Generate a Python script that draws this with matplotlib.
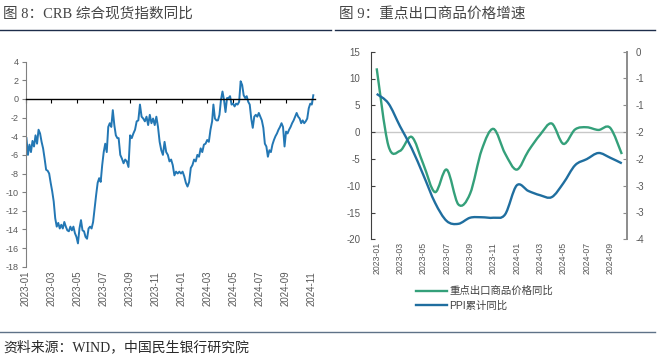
import matplotlib
matplotlib.use("Agg")
import matplotlib.pyplot as plt
import matplotlib.dates as mdates
import numpy as np
import pandas as pd
from matplotlib.lines import Line2D
from matplotlib.patches import PathPatch
from matplotlib.path import Path
from matplotlib.ticker import FormatStrFormatter

# ---- data: CRB spot index yoy (%) in three stretches
crb_seg1 = [-4.2, -6.0, -4.9, -5.7, -4.5, -5.1, -3.9, -4.8, -3.3, -3.7,
            -4.6, -5.3, -6.4, -7.6, -7.7, -8.0, -9.0, -9.9, -11.0, -12.8,
            -13.7, -13.3, -13.9, -13.5, -13.9, -13.2, -13.7, -14.1, -14.2, -13.7,
            -14.1, -13.7, -14.4, -14.8, -15.5, -13.9, -13.0, -14.1, -14.2, -14.8,
            -15.0, -13.9, -13.7, -13.9, -13.2, -11.7, -10.3, -9.0, -8.5, -8.9,
            -7.1, -5.7, -4.8, -5.7, -3.0, -2.6, -3.0, -1.2, -2.8, -3.9, -4.2]
crb_seg2 = [-4.2, -6.0, -6.4, -6.9, -6.5, -6.7, -7.3, -3.9, -4.2, -3.7,
            -3.3, -2.4, -2.3, -0.6, -1.9, -2.1, -2.4, -1.9, -2.8, -1.7,
            -2.6, -2.1, -2.8, -1.9, -3.0, -4.6, -5.5, -6.0, -4.6, -5.7,
            -6.0, -6.7, -6.5, -7.1, -8.2, -7.8, -8.0, -7.8, -8.0, -7.8,
            -8.3, -9.0, -9.4, -8.9, -7.4, -7.1, -6.5, -6.7, -6.0, -6.2,
            -5.3, -5.7, -4.9, -4.8, -4.4, -4.6, -3.3, -2.4]
crb_seg3 = [-0.6, -2.1, -2.3, -2.3, -1.7, -0.1, 0.8, -0.1, -1.4, 0.1,
            0.1, 0.3, -0.6, -0.5, -0.8, -0.5, -0.6, -0.3, 1.9, 1.5,
            0.4, 0.1, 0.3, -0.3, -0.6, -2.1, -3.1, -1.9, -1.7, -1.9,
            -1.5, -1.9, -2.3, -3.1, -4.8, -5.1, -6.2, -5.5, -5.7, -4.9,
            -4.4, -4.0, -3.7, -3.3, -3.0, -2.6, -3.0, -5.1, -3.5, -3.7,
            -3.3, -3.0, -2.6, -2.3, -1.9, -1.5, -1.9, -2.1, -2.6, -2.3,
            -2.6, -2.4, -2.1, -1.0, -0.5, -0.6, 0.4]
crb_spans = [("2023-01-02", "2023-08-03"), ("2023-08-06", "2024-03-12"),
             ("2024-03-15", "2024-11-04")]

# ---- data: key export prices yoy (left axis) and PPI cumulative yoy (right axis)
months = ["2023-01", "2023-02", "2023-03", "2023-04", "2023-05", "2023-06",
          "2023-07", "2023-08", "2023-09", "2023-10", "2023-11", "2023-12",
          "2024-01", "2024-02", "2024-03", "2024-04", "2024-05", "2024-06",
          "2024-07", "2024-08", "2024-09", "2024-10"]
export_yoy = [11.9, -2.5, -3.5, -0.9, -6.0, -11.2, -7.0, -13.5, -11.5, -3.3, 0.6,
              -4.0, -7.0, -3.5, -0.5, 1.6, -2.2, 0.5, 0.9, 0.4, 0.8, -4.1]
ppi_cum = [-0.90, -1.10, -1.59, -2.06, -2.63, -3.22, -3.61, -3.67, -3.54, -3.53, -3.54,
           -3.47, -2.85, -2.97, -3.06, -3.10, -2.80, -2.42, -2.29, -2.16, -2.26, -2.38]

W, H = 668, 359
SANS = ["Liberation Sans", "Noto Sans CJK SC"]
SERIF = ["Liberation Serif", "Noto Sans CJK SC"]
TICK_C = "#595959"
plt.rcParams["axes.unicode_minus"] = False


def box(x0, y0, x1, y1):
    return [x0 / W, 1 - y1 / H, (x1 - x0) / W, (y1 - y0) / H]


def smooth_path(x, y):
    # Catmull-Rom through the points, drawn as cubic Bezier segments
    verts = [(x[0], y[0])]
    codes = [Path.MOVETO]
    n = len(x)
    for i in range(n - 1):
        a = max(i - 1, 0)
        d = min(i + 2, n - 1)
        c1 = (x[i] + (x[i + 1] - x[a]) / 6, y[i] + (y[i + 1] - y[a]) / 6)
        c2 = (x[i + 1] - (x[d] - x[i]) / 6, y[i + 1] - (y[d] - y[i]) / 6)
        verts += [c1, c2, (x[i + 1], y[i + 1])]
        codes += [Path.CURVE4] * 3
    return Path(verts, codes)


fig = plt.figure(figsize=(W / 100, H / 100), dpi=100)

# ---------------- left panel: CRB ----------------
ax = fig.add_axes(box(26, 61.7, 315, 266.7))
crb_segs = [crb_seg1, crb_seg2, crb_seg3]
crb_dates = np.concatenate([pd.date_range(d0, d1, periods=len(seg)).values
                            for seg, (d0, d1) in zip(crb_segs, crb_spans)])
crb_vals = np.concatenate(crb_segs)
ax.plot(crb_dates, crb_vals, color="#2377b4", lw=1.4)
ax.set_xlim(pd.Timestamp("2023-01-01"), pd.Timestamp("2024-11-08"))
ax.set_ylim(-18, 4)
ax.set_yticks(range(-18, 5, 2))
for s in ["top", "right"]:
    ax.spines[s].set_visible(False)
ax.spines["bottom"].set_position(("data", 0))
ax.spines["bottom"].set_color("black")
ax.spines["bottom"].set_linewidth(1.0)
ax.spines["left"].set_color("#808080")
ax.spines["left"].set_linewidth(0.8)
ticks = pd.date_range("2023-01-01", "2024-11-01", freq="2MS")
ax.set_xticks(ticks)
ax.tick_params(axis="x", labelbottom=False, length=3, width=0.8, color="black")
ax.tick_params(axis="y", labelsize=6.5, labelcolor=TICK_C, length=3, width=0.8,
               color="#808080", pad=2)
for lab in ax.get_yticklabels():
    lab.set_family(SANS)
sec = ax.secondary_xaxis("bottom")
sec.set_xticks(mdates.date2num(ticks), labels=[t.strftime("%Y-%m") for t in ticks])
sec.tick_params(length=0, pad=3, labelsize=7, labelcolor=TICK_C, labelrotation=90)
sec.spines["bottom"].set_visible(False)
for lab in sec.get_xticklabels():
    lab.set_family(SANS)

# ---------------- right panel: export prices ----------------
axr = fig.add_axes(box(371.3, 51.7, 627.3, 239.3))
axr2 = axr.twinx()
x = np.arange(len(months))
axr.axhline(0, color="#c8c8c8", lw=1.0, zorder=1)
axr.add_patch(PathPatch(smooth_path(x, export_yoy), fill=False, ec="#34a07a",
                        lw=1.7, zorder=3))
axr2.add_patch(PathPatch(smooth_path(x, ppi_cum), fill=False, ec="#1f6e9f",
                         lw=1.7, zorder=3))
axr.set_xlim(-0.46, 21.47)
axr.set_ylim(-20, 15)
axr.set_yticks(range(-20, 16, 5))
axr2.set_ylim(-4, 0)
axr2.set_yticks(np.linspace(0, -4, 8))
axr2.yaxis.set_major_formatter(FormatStrFormatter("%.0f"))
for s in ["top", "bottom", "right"]:
    axr.spines[s].set_visible(False)
for s in ["top", "bottom", "left"]:
    axr2.spines[s].set_visible(False)
axr.spines["left"].set_color("#404040")
axr.spines["left"].set_linewidth(0.8)
axr2.spines["right"].set_color("#8c8c8c")
axr2.spines["right"].set_linewidth(1.4)
axr.set_xticks(x[::2], labels=months[::2])
axr.tick_params(axis="x", length=0, pad=2, labelsize=6.3, labelcolor=TICK_C,
                labelrotation=90)
axr.tick_params(axis="y", direction="in", length=3, width=0.8, color="#404040",
                labelsize=7, labelcolor=TICK_C, pad=8)
axr2.tick_params(axis="y", direction="in", length=3, width=0.8, color="#8c8c8c",
                 labelsize=7, labelcolor=TICK_C, pad=6)
for lab in axr.get_xticklabels() + axr.get_yticklabels() + axr2.get_yticklabels():
    lab.set_family(SANS)

handles = [Line2D([], [], color="#34a07a", lw=1.7), Line2D([], [], color="#1f6e9f", lw=1.7)]
fig.legend(handles, ["重点出口商品价格同比", "PPI累计同比"], loc="upper left",
           bbox_to_anchor=(416 / W, 1 - 286 / H), frameon=False,
           prop={"family": SANS, "size": 7.5}, handlelength=3.0,
           handletextpad=0.2, labelspacing=0.45, borderpad=0, borderaxespad=0,
           labelcolor="#404040")

# ---------------- titles, rules, source ----------------
fig.text(3 / W, 1 - 14 / H, "图 8：CRB 综合现货指数同比", va="center", ha="left",
         fontsize=10.5, color="#454545", family=SERIF)
fig.text(339 / W, 1 - 14 / H, "图 9：重点出口商品价格增速", va="center", ha="left",
         fontsize=10.5, color="#454545", family=SERIF)
fig.add_artist(Line2D([0, 331 / W], [1 - 30 / H] * 2, color="#1d2d4a", lw=1.0))
fig.add_artist(Line2D([335 / W, 655 / W], [1 - 30 / H] * 2, color="#1d2d4a", lw=1.0))
fig.add_artist(Line2D([0, 655 / W], [1 - 332 / H] * 2, color="#5f7288", lw=1.0))
fig.text(3 / W, 1 - 347 / H, "资料来源：WIND，中国民生银行研究院", va="center", ha="left",
         fontsize=10, color="#2a2a2a", family=SERIF)

fig.savefig("out.png", dpi=100)
